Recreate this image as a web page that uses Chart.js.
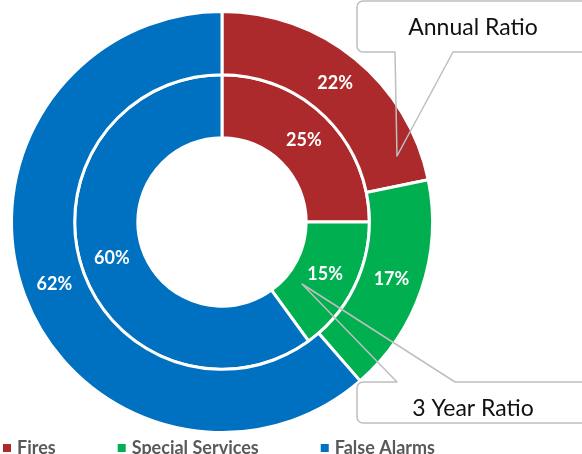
<!DOCTYPE html>
<html>
<head>
<meta charset="utf-8">
<script src="https://cdn.jsdelivr.net/npm/chart.js@4.4.1/dist/chart.umd.min.js"></script>
<style>
html,body{margin:0;padding:0;background:#fff;}
#wrap{width:582px;height:454px;position:relative;}
</style>
</head>
<body>
<div id="wrap"><canvas id="c" width="582" height="454"></canvas></div>
<script>
const categories = ['Fires', 'Special Services', 'False Alarms'];
const annualRatio = [22, 17, 62];
const threeYearRatio = [25, 15, 60];
const seriesNames = ['Annual Ratio', '3 Year Ratio'];
const sliceColors = ['#AC2A2B', '#00AF50', '#0070C0'];

const FONT = 'Lato, "Open Sans", sans-serif';

const sliceLabels = {
  id: 'sliceLabels',
  afterDatasetsDraw(chart) {
    const ctx = chart.ctx;
    ctx.save();
    ctx.font = 'bold 18px ' + FONT;
    ctx.fillStyle = '#ffffff';
    ctx.textAlign = 'center';
    ctx.textBaseline = 'middle';
    chart.data.datasets.forEach((ds, di) => {
      const meta = chart.getDatasetMeta(di);
      meta.data.forEach((arc, i) => {
        const p = arc.tooltipPosition();
        ctx.fillText(ds.data[i] + '%', p.x, p.y);
      });
    });
    ctx.restore();
  }
};

const callouts = {
  id: 'callouts',
  afterDraw(chart) {
    const ctx = chart.ctx;
    ctx.save();
    ctx.strokeStyle = '#BFBFBF';
    ctx.lineWidth = 1.5;
    ctx.lineJoin = 'round';
    const r = 6;
    // Annual Ratio box (pointer from bottom edge)
    let L = 357, T = 1, B = 52, R = 600;
    ctx.beginPath();
    ctx.moveTo(R, B);
    ctx.lineTo(453, B);
    ctx.lineTo(397, 156);
    ctx.lineTo(395, B);
    ctx.lineTo(L + r, B);
    ctx.arcTo(L, B, L, B - r, r);
    ctx.lineTo(L, T + r);
    ctx.arcTo(L, T, L + r, T, r);
    ctx.lineTo(R, T);
    ctx.stroke();
    // 3 Year Ratio box (pointer from top edge)
    L = 357; T = 382; B = 423; R = 600;
    ctx.beginPath();
    ctx.moveTo(R, T);
    ctx.lineTo(455, T);
    ctx.lineTo(302, 284);
    ctx.lineTo(397, T);
    ctx.lineTo(L + r, T);
    ctx.arcTo(L, T, L, T + r, r);
    ctx.lineTo(L, B - r);
    ctx.arcTo(L, B, L + r, B, r);
    ctx.lineTo(R, B);
    ctx.stroke();

    ctx.fillStyle = '#111111';
    ctx.font = '23px ' + FONT;
    ctx.textAlign = 'center';
    ctx.textBaseline = 'middle';
    ctx.fillText(seriesNames[0], 473, 28);
    ctx.fillText(seriesNames[1], 473, 409);

    // legend
    ctx.font = 'bold 18px ' + FONT;
    ctx.textAlign = 'left';
    const box = 8, gapBoxText = 6, gapItems = 62;
    const widths = categories.map(c => ctx.measureText(c).width);
    const total = widths.reduce((a, w) => a + box + gapBoxText + w, 0) + gapItems * (categories.length - 1);
    let x = 219 - total / 2;
    const y = 448;
    categories.forEach((c, i) => {
      ctx.fillStyle = sliceColors[i];
      ctx.fillRect(x, y - box / 2, box, box);
      ctx.fillStyle = '#595959';
      ctx.fillText(c, x + box + gapBoxText, y);
      x += box + gapBoxText + widths[i] + gapItems;
    });
    ctx.restore();
  }
};

new Chart(document.getElementById('c'), {
  type: 'doughnut',
  data: {
    labels: categories,
    datasets: [
      { label: seriesNames[0], data: annualRatio, backgroundColor: sliceColors, borderColor: '#ffffff', borderWidth: 3 },
      { label: seriesNames[1], data: threeYearRatio, backgroundColor: sliceColors, borderColor: '#ffffff', borderWidth: 3 }
    ]
  },
  options: {
    responsive: false,
    animation: false,
    cutout: '40%',
    layout: { padding: { top: 10, bottom: 20, left: 0, right: 138 } },
    plugins: { legend: { display: false }, tooltip: { enabled: false } }
  },
  plugins: [sliceLabels, callouts]
});
</script>
</body>
</html>
